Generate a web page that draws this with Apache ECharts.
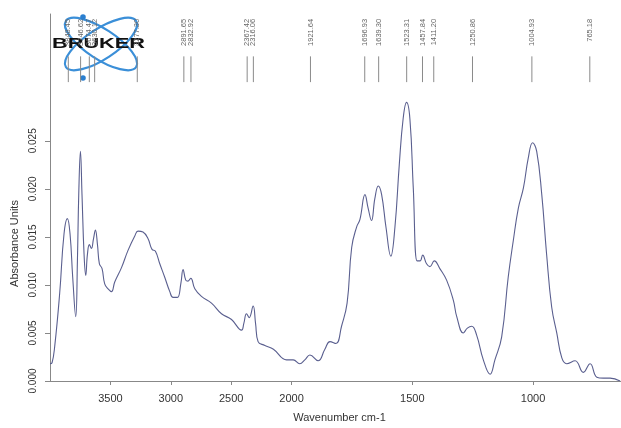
<!DOCTYPE html>
<html>
<head>
<meta charset="utf-8">
<script src="https://cdn.jsdelivr.net/npm/echarts@6/dist/echarts.min.js"></script>
<style>
  html, body { margin: 0; padding: 0; background: #fff; }
  #chart { width: 621px; height: 428px; }
</style>
</head>
<body>
<div id="chart"></div>
<script>
// spectrum (wavenumber cm-1 / absorbance)
const wavenumbers = [4000,3983,3961,3920,3884,3856,3834,3812,3787,3773,3762,3748,3735,3718,3704,3690,3674,3657,3640,3624,3607,3591,3569,3547,3519,3491,3464,3408,3354,3298,3271,3230,3188,3155,3127,3091,3050,3008,2981,2945,2917,2898,2876,2857,2834,2801,2746,2663,2580,2497,2414,2395,2373,2351,2318,2298,2277,2221,2150,2041,1993,1966,1945,1924,1890,1862,1841,1816,1793,1770,1751,1731,1717,1696,1683,1669,1655,1641,1627,1609,1589,1572,1554,1538,1524,1510,1496,1480,1468,1457,1441,1427,1409,1386,1358,1330,1316,1289,1272,1254,1234,1206,1178,1158,1130,1103,1082,1061,1040,1020,1002,985,964,944,923,902,881,861,826,792,764,736,709,681,640];
const absorbance = [0.0018,0.0019,0.0036,0.0091,0.0153,0.0169,0.0153,0.0108,0.0067,0.0125,0.0194,0.0239,0.0194,0.0132,0.0110,0.0132,0.0142,0.0138,0.0148,0.0157,0.0142,0.0122,0.0117,0.0101,0.0096,0.0093,0.0103,0.0118,0.0136,0.0151,0.0156,0.0155,0.0148,0.0137,0.0135,0.0122,0.0108,0.0093,0.0087,0.0087,0.0101,0.0116,0.0105,0.0104,0.0107,0.0096,0.0088,0.0081,0.0070,0.0064,0.0053,0.0060,0.0070,0.0066,0.0078,0.0060,0.0041,0.0037,0.0033,0.0022,0.0022,0.0018,0.0022,0.0027,0.0021,0.0033,0.0041,0.0039,0.0057,0.0081,0.0139,0.0160,0.0168,0.0194,0.0180,0.0167,0.0190,0.0203,0.0194,0.0160,0.0130,0.0160,0.0225,0.0273,0.0290,0.0273,0.0201,0.0125,0.0125,0.0131,0.0122,0.0119,0.0125,0.0117,0.0105,0.0084,0.0067,0.0050,0.0055,0.0057,0.0048,0.0022,0.0007,0.0022,0.0046,0.0108,0.0146,0.0180,0.0201,0.0232,0.0248,0.0239,0.0194,0.0132,0.0077,0.0050,0.0024,0.0018,0.0021,0.0009,0.0018,0.0004,0.0003,0.0003,0.0000];

// picked peaks shown at the top
const peaks = [3848.45,3746.62,3674.47,3630.12,3277.30,2891.65,2832.92,2367.42,2316.06,1921.64,1696.93,1639.30,1523.31,1457.84,1411.20,1250.86,1004.93,765.18];

// axis tick labels
const xTicks = [3500,3000,2500,2000,1500,1000];
const yTicks = [0,0.005,0.010,0.015,0.020,0.025];

// OPUS style axis: above 2000 cm-1 the scale is compressed by 2
const toAxis = w => w <= 2000 ? w : 2000 + (w - 2000) / 2;
const fromAxis = u => u <= 2000 ? u : 2000 + (u - 2000) * 2;

const chart = echarts.init(document.getElementById('chart'));
const font = 'Liberation Sans, Arial, sans-serif';

const option = {
    animation: false,
    grid: { left: 50, right: 0, top: 14, bottom: 43 },
    xAxis: [
        {
            type: 'value',
            inverse: true,
            min: toAxis(636),
            max: toAxis(4000),
            name: 'Wavenumber cm-1',
            nameLocation: 'middle',
            nameGap: 31,
            nameTextStyle: { fontFamily: font, fontSize: 11, color: '#333', padding: [0, 0, 0, 8] },
            axisLine: { onZero: false, lineStyle: { color: '#888', width: 1 } },
            axisTick: { customValues: xTicks.map(toAxis), length: 4, lineStyle: { color: '#888' } },
            axisLabel: {
                customValues: xTicks.map(toAxis),
                formatter: v => String(Math.round(fromAxis(v))),
                fontFamily: font, fontSize: 11, color: '#333', margin: 12
            },
            splitLine: { show: false }
        },
        {
            // top border of the frame
            type: 'value',
            position: 'top',
            inverse: true,
            min: toAxis(636),
            max: toAxis(4000),
            axisLine: { lineStyle: { color: '#888', width: 1 } },
            axisTick: { show: false },
            axisLabel: { show: false },
            splitLine: { show: false }
        }
    ],
    yAxis: {
        type: 'value',
        min: 0,
        max: 0.0382,
        name: 'Absorbance Units',
        nameLocation: 'middle',
        nameGap: 29,
        nameTextStyle: { fontFamily: font, fontSize: 11, color: '#333', padding: [0, 92, 0, 0] },
        axisLine: { show: true, lineStyle: { color: '#888', width: 1 } },
        axisTick: { show: true, customValues: yTicks, length: 5, lineStyle: { color: '#888' } },
        axisLabel: {
            customValues: yTicks,
            formatter: v => v.toFixed(3),
            rotate: 90,
            fontFamily: font, fontSize: 10, color: '#333', margin: 12
        },
        splitLine: { show: false }
    },
    series: [
        {
            type: 'line',
            data: wavenumbers.map((w, i) => [toAxis(w), absorbance[i]]),
            showSymbol: false,
            smooth: 0.45,
            lineStyle: { color: '#5a5f8f', width: 1.1 },
            silent: true
        },
        {
            type: 'custom',
            data: peaks.map(p => [toAxis(p), p]),
            silent: true,
            renderItem: function (params, api) {
                const u = api.value(0);
                const a = api.coord([u, 0.03379]);
                const b = api.coord([u, 0.03111]);
                const t = api.coord([u, 0.0377]);
                return {
                    type: 'group',
                    children: [
                        {
                            type: 'line',
                            shape: { x1: a[0], y1: a[1], x2: b[0], y2: b[1] },
                            style: { stroke: '#8a8a8a', lineWidth: 1 }
                        },
                        {
                            type: 'text',
                            x: t[0],
                            y: t[1],
                            rotation: Math.PI / 2,
                            style: {
                                text: api.value(1).toFixed(2),
                                fontFamily: font,
                                fontSize: 7.5,
                                fill: '#666',
                                align: 'right',
                                verticalAlign: 'middle'
                            }
                        }
                    ]
                };
            },
            z: 3
        }
    ],
    graphic: [
        {
            // Bruker logo
            type: 'group',
            x: 101,
            y: 44,
            z: 100,
            silent: true,
            children: [
                {
                    type: 'ellipse',
                    shape: { cx: 0, cy: 0, rx: 42, ry: 15 },
                    rotation: 0.58,
                    style: { fill: 'none', stroke: '#3b8fd8', lineWidth: 2.2 }
                },
                {
                    type: 'ellipse',
                    shape: { cx: 0, cy: 0, rx: 42, ry: 15 },
                    rotation: -0.58,
                    style: { fill: 'none', stroke: '#3b8fd8', lineWidth: 2.2 }
                },
                {
                    type: 'circle',
                    shape: { cx: -18, cy: -27, r: 2.8 },
                    style: { fill: '#2a7fd0' }
                },
                {
                    type: 'circle',
                    shape: { cx: -18, cy: 34, r: 2.8 },
                    style: { fill: '#2a7fd0' }
                },
                {
                    type: 'text',
                    x: -49,
                    y: 0,
                    scaleX: 1.45,
                    style: {
                        text: 'BRUKER',
                        fontFamily: font,
                        fontWeight: 'bold',
                        fontSize: 15,
                        fill: '#111',
                        align: 'left',
                        verticalAlign: 'middle'
                    }
                }
            ]
        }
    ]
};

chart.setOption(option);
</script>
</body>
</html>
